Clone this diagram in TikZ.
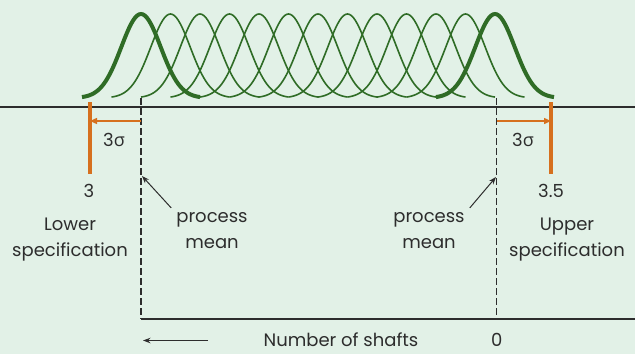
\documentclass[tikz,border=0pt]{standalone}
\usepackage{fontspec}
\setmainfont{Poppins}
\newfontfamily\grk{Open Sans}
\usetikzlibrary{arrows.meta}
\definecolor{bgmint}{RGB}{226,241,231}
\definecolor{curvegreen}{RGB}{47,108,38}
\definecolor{specorange}{RGB}{214,112,30}
\definecolor{inkgrey}{RGB}{45,45,45}
\tikzset{
  curve/.style={draw=curvegreen, line width=1.6pt},
  curvebold/.style={curve, line width=4pt},
  spec/.style={draw=specorange, line width=3.8pt},
  specarr/.style={draw=specorange, line width=1.4pt, -{Triangle[length=7pt,width=6pt]}},
  meanline/.style={draw=inkgrey, line width=1.1pt, dash pattern=on 6.5pt off 3.5pt},
  axisline/.style={draw=inkgrey, line width=1.2pt},
  ptr/.style={draw=inkgrey, line width=1pt, -{Stealth[length=7.5pt,width=5.5pt]}},
  lbl/.style={font=\fontsize{18}{26.7}\selectfont, text=inkgrey, align=center, inner sep=1pt},
}
\begin{document}
\begin{tikzpicture}[x=1pt,y=-1pt]
  \fill[bgmint] (0,0) rectangle (635,354);
  \useasboundingbox (0,0) rectangle (635,354);
  % shifted process distributions
  \foreach \c in {170.5,200,229.5,259,288.5,318,347.5,377,406.5,436,465.5}{
    \draw[curve] plot[domain=-59:59,samples=61,smooth] ({\c+\x},{98-84*exp(-(\x*\x)/776)});
  }
  \foreach \c in {141,495}{
    \draw[curvebold] plot[domain=-59:59,samples=61,smooth] ({\c+\x},{98-84*exp(-(\x*\x)/776)});
  }
  \draw[axisline] (0,107) -- (635,107);
  % specification limits
  \coordinate (lspectop) at (90,102);
  \coordinate (lspecbot) at (90,174);
  \coordinate (uspectop) at (551,102);
  \coordinate (uspecbot) at (551,174);
  \draw[spec] (lspectop) -- (lspecbot);
  \draw[spec] (uspectop) -- (uspecbot);
  % process means
  \coordinate (lmeantop) at (141,98);
  \coordinate (lmeanbot) at (141,319);
  \coordinate (umeantop) at (496.5,98);
  \coordinate (umeanbot) at (496.5,319);
  \coordinate (shaftend) at (635,319);
  \draw[meanline] (lmeantop) -- (lmeanbot);
  \draw[meanline] (umeantop) -- (umeanbot);
  \draw[axisline] (lmeanbot) -- (shaftend);
  \draw[specarr] (lmeantop |- 0,121) -- (lspectop |- 0,121);
  \draw[specarr] (umeantop |- 0,121) -- (uspectop |- 0,121);
  \node[lbl] (lsig) at (114,140) {3{\grk σ}};
  \node[lbl] (usig) at (523,140) {3{\grk σ}};
  \node[lbl] (lval) at (89,191) {3};
  \node[lbl] (uval) at (551,191) {3.5};
  \node[lbl] (lspec) at (70,239.5) {Lower\\specification};
  \node[lbl] (uspec) at (567,239.5) {Upper\\specification};
  \node[lbl] (lmean) at (212,230.5) {process\\mean};
  \node[lbl] (umean) at (429,230.5) {process\\mean};
  \coordinate (lmeanpt) at (142,176);
  \coordinate (umeanpt) at (496,177);
  \draw[ptr] ([xshift=-4pt,yshift=3pt]lmean.north west) -- (lmeanpt);
  \draw[ptr] ([xshift=4pt,yshift=3pt]umean.north east) -- (umeanpt);
  % shaft axis
  \node[lbl,anchor=base] (shafts) at (341,346.5) {Number of shafts};
  \node[lbl,anchor=base] (zero) at (496.7,346.5) {0};
  \coordinate (shaftarr) at (143,340.5);
  \draw[ptr] (208,340.5) -- (shaftarr);
\end{tikzpicture}
\end{document}
